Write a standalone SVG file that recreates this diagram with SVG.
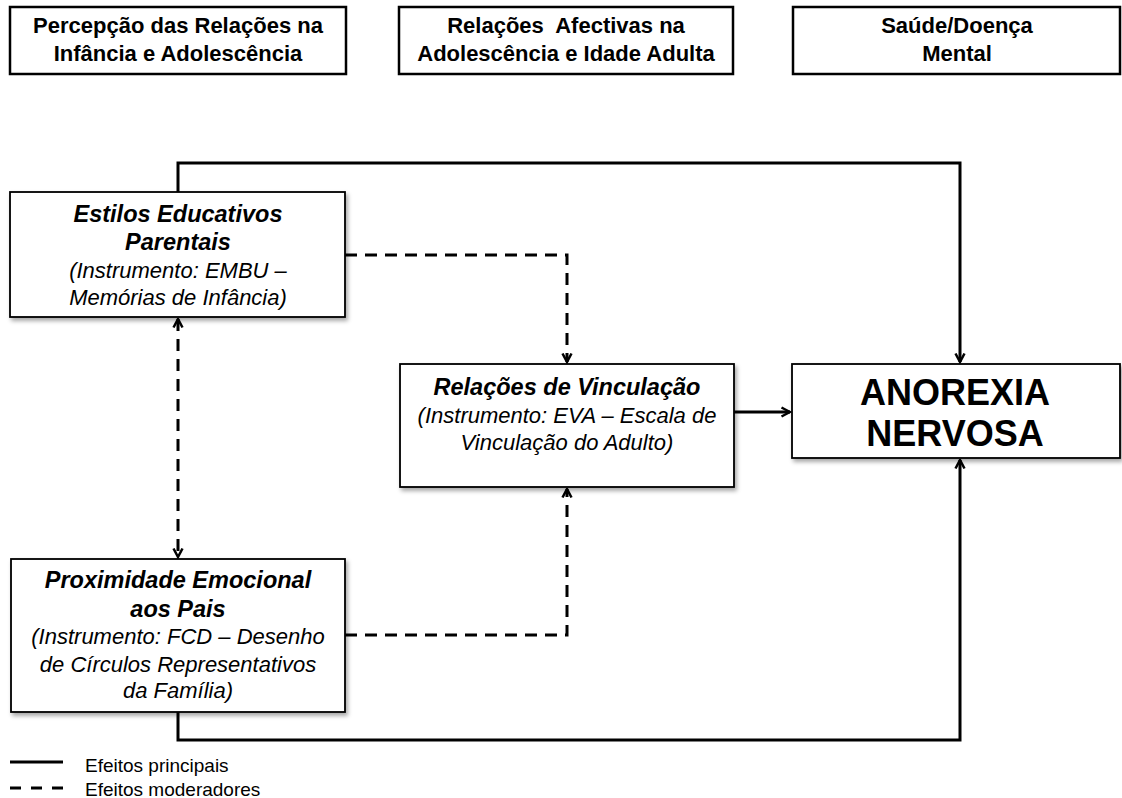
<svg xmlns="http://www.w3.org/2000/svg" width="1122" height="798" viewBox="0 0 1122 798">
<style>
.hdr{fill:#fff;stroke:#000;stroke-width:2.5}
.box{fill:#fff;stroke:#000;stroke-width:1.8}
.ht{font-family:"Liberation Sans",Arial,sans-serif;font-weight:bold;font-size:22px;text-anchor:middle;fill:#000}
.bt{font-family:"Liberation Sans",Arial,sans-serif;font-weight:bold;font-style:italic;font-size:23.5px;text-anchor:middle;fill:#000}
.it{font-family:"Liberation Sans",Arial,sans-serif;font-style:italic;font-size:22px;text-anchor:middle;fill:#000}
.big{font-family:"Liberation Sans",Arial,sans-serif;font-weight:bold;font-size:36px;text-anchor:middle;fill:#000}
.lg{font-family:"Liberation Sans",Arial,sans-serif;font-size:19px;fill:#000}
.solid{fill:none;stroke:#000;stroke-width:3}
.dash{fill:none;stroke:#000;stroke-width:3;stroke-dasharray:12 8}
</style>
<defs>
<filter id="sh" x="-5%" y="-5%" width="115%" height="125%">
<feDropShadow dx="2" dy="3" stdDeviation="2" flood-color="#000" flood-opacity="0.35"/>
</filter>
<marker id="ah" viewBox="0 0 12 12" refX="10.5" refY="6" markerWidth="12" markerHeight="12" markerUnits="userSpaceOnUse" orient="auto-start-reverse">
<path d="M2,1.5 L10.5,6 L2,10.5" fill="none" stroke="#000" stroke-width="2.5" stroke-dasharray="none"/>
</marker>
</defs>

<g id="header1">
<rect class="hdr" x="10" y="7" width="336" height="67"/>
<text class="ht" x="178" y="33">Percepção das Relações na</text>
<text class="ht" x="178" y="61">Infância e Adolescência</text>
</g>
<g id="header2">
<rect class="hdr" x="399" y="7" width="334" height="67"/>
<text class="ht" x="566" y="33" xml:space="preserve">Relações  Afectivas na</text>
<text class="ht" x="566" y="61">Adolescência e Idade Adulta</text>
</g>
<g id="header3">
<rect class="hdr" x="793" y="7" width="327" height="67"/>
<text class="ht" x="957" y="33">Saúde/Doença</text>
<text class="ht" x="957" y="61">Mental</text>
</g>

<g id="connectors">
<path class="solid" d="M178,192 V163 H960 V362" marker-end="url(#ah)"/>
<path class="solid" d="M178,712 V740 H960 V460" marker-end="url(#ah)"/>
<path class="solid" d="M734,412 H790" marker-end="url(#ah)"/>
<path class="dash" d="M345,255 H567 V362" marker-end="url(#ah)"/>
<path class="dash" d="M345,635 H567 V489" marker-end="url(#ah)"/>
<path class="dash" d="M178,319 V557" marker-start="url(#ah)" marker-end="url(#ah)"/>
</g>

<g id="estilos">
<rect class="box" x="10" y="192" width="335" height="125" filter="url(#sh)"/>
<text class="bt" x="178" y="222">Estilos Educativos</text>
<text class="bt" x="178" y="250">Parentais</text>
<text class="it" x="178" y="278">(Instrumento: EMBU –</text>
<text class="it" x="178" y="305">Memórias de Infância)</text>
</g>

<g id="vinculacao">
<rect class="box" x="400" y="364" width="334" height="123" filter="url(#sh)"/>
<text class="bt" x="567" y="395" xml:space="preserve">Relações de Vinculação</text>
<text class="it" x="567" y="423">(Instrumento: EVA – Escala de</text>
<text class="it" x="567" y="450">Vinculação do Adulto)</text>
</g>

<g id="anorexia">
<rect class="box" x="792" y="364" width="328" height="94" filter="url(#sh)"/>
<text class="big" x="955" y="405">ANOREXIA</text>
<text class="big" x="955" y="446">NERVOSA</text>
</g>

<g id="proximidade">
<rect class="box" x="11" y="559" width="334" height="153" filter="url(#sh)"/>
<text class="bt" x="178" y="588">Proximidade Emocional</text>
<text class="bt" x="178" y="617">aos Pais</text>
<text class="it" x="178" y="644">(Instrumento: FCD – Desenho</text>
<text class="it" x="178" y="672">de Círculos Representativos</text>
<text class="it" x="178" y="698">da Família)</text>
</g>

<g id="legend">
<line class="solid" x1="10" y1="762" x2="63" y2="762"/>
<text class="lg" x="85" y="772">Efeitos principais</text>
<line class="dash" x1="10" y1="788" x2="63" y2="788" style="stroke-dasharray:11 10"/>
<text class="lg" x="85" y="796">Efeitos moderadores</text>
</g>
</svg>
